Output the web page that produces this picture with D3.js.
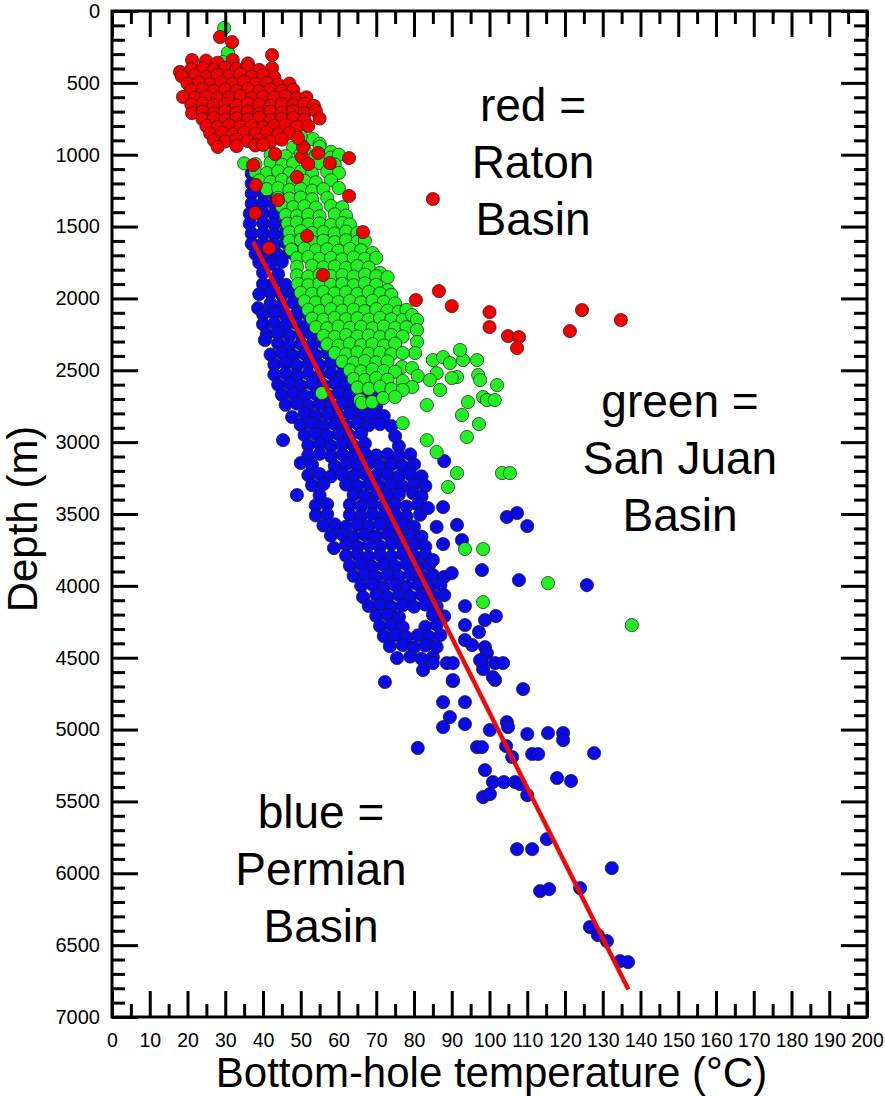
<!DOCTYPE html>
<html>
<head>
<meta charset="utf-8">
<script src="https://cdn.jsdelivr.net/npm/d3@7/dist/d3.min.js"></script>
<style>
  html, body { margin: 0; padding: 0; background: #ffffff; }
  svg { display: block; }
  text { font-family: "Liberation Sans", Arial, sans-serif; fill: #000; }
</style>
</head>
<body>
<svg id="chart" width="885" height="1096"></svg>
<script>
// ---------------- DATA ----------------
const xTickValues = [0,10,20,30,40,50,60,70,80,90,100,110,120,130,140,150,160,170,180,190,200];
const yTickValues = [0,500,1000,1500,2000,2500,3000,3500,4000,4500,5000,5500,6000,6500,7000];
const xTitle = "Bottom-hole temperature (°C)";
const yTitle = "Depth (m)";

// [temperature °C, depth m]
const permian = [
[37,1130],[40,1150],[37,1200],[40,1195],[43,1210],[50.5,1190],[37,1270],[40,1265],[43,1280],[46,1260],
[37,1340],[40,1335],[43,1348],[46,1330],[49,1345],
[36.5,1410],[40,1405],[43,1418],[46,1400],[49,1412],
[36.5,1480],[40,1475],[43,1488],[46,1470],[49,1482],
[37,1550],[40,1545],[43,1558],[46,1540],[49,1552],
[37,1620],[40,1615],[43,1628],[46,1610],[49,1622],
[38,1690],[41,1685],[44,1698],[47,1680],
[39,1750],[42,1760],[45,1745],
[40,1820],[44,1830],
[40,1900],[43,1890],[46,1905],[50,1895],[54,1910],
[39,1970],[42,1960],[45,1975],[48,1965],[51,1978],[54,1962],[57,1972],
[38.7,2067],[42,2035],[45,2048],[48,2030],[51,2045],[54,2038],[57,2050],
[40,2110],[43,2102],[46,2118],[49,2105],[52,2115],[55,2100],[58,2112],
[40,2180],[43,2172],[46,2188],[49,2175],[52,2185],[55,2170],[58,2182],
[41,2250],[44,2242],[47,2258],[50,2245],[53,2255],[56,2240],[59,2252],
[40.5,2290],[44,2312],[47,2328],[50,2315],[53,2325],[56,2310],[59,2322],[62,2315],
[42,2390],[45,2382],[48,2398],[51,2385],[54,2395],[57,2380],[60,2392],[63,2385],
[43,2460],[46,2452],[49,2468],[52,2455],[55,2465],[58,2450],[61,2462],[64,2455],
[43,2530],[46,2522],[49,2538],[52,2525],[55,2535],[58,2520],[61,2532],[64,2525],[67,2538],
[44,2600],[47,2592],[50,2608],[53,2595],[56,2605],[59,2590],[62,2602],[65,2595],[68,2608],
[45,2670],[48,2662],[51,2678],[54,2665],[57,2675],[60,2660],[63,2672],[66,2665],[69,2678],
[46,2740],[49,2732],[52,2748],[55,2735],[58,2745],[61,2730],[64,2742],[67,2735],[70,2748],
[47.7,2825],[51,2802],[54,2818],[57,2805],[60,2815],[63,2800],[66,2812],[69,2805],[72,2818],
[50,2880],[53,2872],[56,2888],[59,2875],[62,2885],[65,2870],[68,2882],[71,2875],[74,2888],
[45.3,2986],[51,2950],[54,2942],[57,2958],[60,2945],[63,2955],[66,2940],[75,2958],
[52,3020],[55,3012],[58,3028],[61,3015],[64,3025],[67,3010],[76,3028],
[52,3090],[55,3082],[58,3098],[61,3085],[64,3095],[67,3080],[70,3092],[73,3085],[76,3098],[79,3085],
[50,3145],[53,3160],[59,3168],[62,3155],[65,3165],[68,3150],[71,3162],[74,3155],[77,3168],[80,3155],
[52,3230],[55,3222],[58,3238],[61,3225],[64,3235],[67,3220],[70,3232],[73,3225],[76,3238],[79,3225],[82,3238],
[53,3300],[56,3292],[62,3295],[65,3305],[68,3290],[71,3302],[74,3295],[77,3308],[80,3295],[83,3305],
[49,3368],[55,3370],[64,3365],[67,3375],[70,3360],[73,3372],[76,3365],[79.7,3354],[82,3378],
[54,3440],[57,3432],[63,3435],[66,3445],[69,3430],[72,3442],[75,3435],[78,3448],[81,3435],
[54,3510],[57,3502],[63,3505],[66,3515],[69,3500],[72,3512],[75,3505],[78,3518],[81.6,3505],
[56,3580],[59,3572],[62,3588],[65,3575],[68,3585],[71,3570],[74,3582],[77,3575],[80,3588],
[58,3650],[61,3642],[64,3658],[67,3645],[70,3655],[73,3640],[76,3652],[79,3645],[82,3658],
[58.8,3737],[62,3712],[65,3728],[68,3715],[71,3725],[74,3710],[77,3722],[80,3715],[83,3728],
[62,3790],[65,3782],[68,3798],[71,3785],[74,3795],[77,3780],[80,3792],[83,3785],
[63,3860],[66,3852],[69,3868],[72,3855],[75,3865],[78,3850],[81,3862],[84,3855],
[64,3930],[67,3922],[70,3938],[73,3925],[76,3935],[79,3920],[82,3932],[85,3925],[88,3938],
[66,4000],[69,3992],[72,4008],[75,3995],[78,4005],[81,3990],[84,4002],[87,3995],
[66.5,4078],[70,4062],[73,4078],[76,4065],[79,4075],[82,4060],[85,4072],[88,4065],
[68,4140],[71,4132],[74,4148],[77,4135],[80,4145],[83,4130],[86,4142],
[70,4210],[73,4202],[76,4218],[85,4200],[88,4212],
[71,4280],[74,4272],[77,4288],[83,4285],[86,4270],
[72,4350],[75,4342],[78,4358],[81,4345],[84,4355],[87,4342],
[73.6,4420],[77,4412],[80,4428],[83,4415],[86,4425],
[75.5,4502],[79,4492],[82,4508],[85,4495],
[85,4537],[88.7,4537],[90.3,4537],[82.4,4586],[90.3,4663],[72.3,4669],
[83.7,3459],[87.7,3452],[86,3590],[91.4,3576],[92.7,3681],[87.7,3709],[85,3820],[90,3911],[88,3132],
[98,3890],[104.6,3521],[107.3,3493],[110,3584],[107.8,3960],[125.8,3995],
[93.5,4141],[98.8,4238],[101.7,4210],[93.5,4273],[97.2,4321],[93.5,4377],[95.4,4412],[98.8,4426],
[99.3,4468],[98,4530],[98.3,4579],[101.5,4537],[103.6,4537],[97.5,4517],[101.5,4655],[100.9,4635],
[108.9,4718],[90.3,4655],[87.7,4809],[93.5,4809],[89.5,4913],[87.7,4983],[93.5,4962],[104.6,4948],
[104.9,4983],[100.1,5003],[110,5031],[81,5128],[96.7,5122],[98,5122],[104.4,5115],[115.5,5024],
[119.5,5024],[119.5,5073],[127.7,5164],[106,5191],[111.3,5170],[112.9,5170],[98.8,5282],
[100.9,5365],[103.8,5365],[106.8,5365],[108.1,5379],[98.3,5470],[100.1,5449],[110,5456],
[117.9,5337],[121.6,5358],[107.3,5832],[111.3,5832],[115.2,5762],[132.4,5964],[113.4,6124],
[115.8,6110],[124,6103],[126.6,6374],[128.7,6430],[131.1,6472],[134.6,6611],[136.7,6618]
];

const sanJuan = [
[29.7,118],[30.7,290],[29.4,355],
[53.2,891],[50,870],[55,925],
[48,950],[51,962],[55,945],[58,980],
[42,1000],[46,1010],[50,995],[54,1008],[58,1020],[60.1,1000],
[35,1060],[38,1065],[42,1055],[45,1070],[48,1060],[52,1072],[55,1058],[59,1068],
[38,1120],[41,1128],[44,1115],[47,1130],[50,1120],[53,1132],[57,1118],[60.1,1127],
[39,1180],[42,1190],[45,1175],[48,1188],[51,1182],[54,1192],[58,1178],
[41,1240],[44,1232],[47,1245],[50,1238],[53,1250],[56,1240],[60.1,1232],
[44,1300],[47,1305],[50,1298],[53,1310],[57,1300],
[45,1360],[48,1365],[51,1358],[54,1368],[58,1356],[61,1365],
[46,1420],[49,1425],[52,1418],[55,1428],[59,1415],[62,1425],
[46.5,1480],[49,1472],[52,1485],[55,1478],[58,1488],[61,1475],[63,1485],
[47,1540],[50,1532],[53,1545],[56,1538],[59,1548],[62,1535],[65,1545],
[47,1600],[50,1592],[53,1605],[56,1598],[59,1608],[62,1595],[65,1605],[67,1598],
[47.5,1660],[51,1652],[54,1665],[57,1658],[60,1668],[63,1655],[66,1665],[69,1684],
[49,1720],[52,1712],[55,1725],[58,1718],[61,1728],[64,1715],[67,1725],[70,1718],
[49,1780],[53,1772],[56,1785],[59,1778],[62,1788],[65,1775],[68,1785],[71,1823],
[49,1840],[52,1848],[55,1835],[58,1845],[61,1838],[64,1848],[67,1835],[70,1845],[73,1852],
[49.3,1900],[52,1908],[55,1895],[58,1905],[61,1898],[64,1908],[67,1895],[70,1905],[73,1942],
[50,1960],[53,1968],[56,1955],[59,1965],[62,1958],[65,1968],[68,1955],[71,1965],[74,1975],
[51,2020],[54,2028],[57,2015],[60,2025],[63,2018],[66,2028],[69,2015],[72,2025],[75,2035],
[52,2080],[55,2088],[58,2075],[61,2085],[64,2078],[67,2088],[70,2075],[73,2085],[76,2092],[78,2080],
[53,2140],[56,2148],[59,2135],[62,2145],[65,2138],[68,2148],[71,2135],[74,2145],[77,2150],[79.5,2116],[80.8,2150],
[54,2200],[57,2208],[60,2195],[63,2205],[66,2198],[69,2208],[72,2195],[75,2205],[78,2200],[80.8,2220],
[56,2260],[59,2268],[62,2255],[65,2265],[68,2258],[71,2268],[74,2255],[77,2265],[80.8,2303],
[57,2320],[60,2328],[63,2315],[66,2325],[69,2318],[72,2328],[75,2315],[80.3,2380],
[59,2380],[62,2388],[65,2375],[68,2385],[71,2378],[74,2388],[77,2380],
[61,2440],[64,2448],[67,2435],[70,2445],[73,2438],[76.8,2477],[79.5,2484],[85,2429],[87.7,2408],[89.5,2450],[93,2429],[92.2,2359],[96.7,2429],
[63,2500],[66,2508],[69,2495],[72,2505],[75,2510],[81,2540],[91.4,2547],[97,2533],[86,2520],[90,2554],
[64,2560],[67,2568],[70,2555],[73,2565],[77,2575],[79.5,2617],[86.9,2637],[84.2,2568],[97.5,2568],[102,2603],
[65,2620],[68,2628],[71,2615],[74,2630],[77,2637],[83.4,2742],[98.3,2686],
[65.7,2707],[66.2,2728],[68.9,2721],[71.8,2693],[75,2686],[99.3,2707],[101.4,2707],[94.3,2721],[92.7,2811],
[55.6,2658],[77,2868],[83.4,2986],[86,3069],[91.4,3215],[89,3312],[103.3,3215],[105.4,3215],[94,2964],[97.2,2874],
[93.5,3744],[98.3,3744],[98.3,4113],[115.5,3981],[137.7,4273]
];

const raton = [
[28.6,181],[31.8,216],[42.4,306],
[21.2,341],[24.9,345],[28,360],[32,341],[36,365],
[18,424],[21,405],[24,398],[27,410],[30,395],[33,402],[36,390],[39,410],[42.4,397],
[18.5,455],[22,448],[25,460],[28,445],[31,452],[34,440],[37,458],[40,446],[43,462],
[20,505],[23,498],[26,510],[29,495],[32,505],[35,492],[38,508],[41,500],[44,512],[47,505],
[21,552],[24,545],[27,558],[30,548],[33,555],[36,542],[39,560],[42,548],[45,555],[48,548],
[18.8,598],[22,605],[25,595],[28,608],[31,600],[34,592],[37,607],[40,598],[43,603],[46,595],[49,607],[51.5,600],
[21,652],[24,645],[27,655],[30,648],[33,658],[36,645],[39,652],[42,660],[45,648],[48,655],[51,645],[53.5,660],
[21.2,710],[24,700],[27,712],[30,698],[33,708],[36,700],[39,715],[42,702],[45,708],[48,698],[51,712],[54,695],
[24,752],[27,745],[30,758],[33,748],[36,755],[39,742],[42,760],[45,750],[48,745],[51,758],[55,748],
[25,800],[28,808],[31,795],[34,805],[37,798],[40,810],[43,800],[46,795],[49,805],[52,800],
[26,852],[29,845],[32,858],[35,848],[38,855],[41,845],[44,858],[47,850],
[27,900],[30,908],[33,895],[36,905],[39,898],[42,910],[45,895],
[28,946],[33,940],[38,935],
[37.4,1072],[38.1,1211],[37.9,1406],[44,1315],[51.7,1566],[41.6,1650],[49,1155],[62.8,1023],
[62.8,1287],[66.5,1538],[50.3,1016],[50.6,946],[54.6,988],[57.7,1058],[52,1065],[55.9,1837],
[49.3,884],[43.2,995],[40,932],[85,1308],[86.6,1949],[80.5,2011],[90,2053],[100,2095],
[100,2199],[104.9,2262],[107.8,2269],[107.3,2345],[124.5,2081],[121.3,2227],[134.8,2150]
];

// regression line end points [temperature, depth]
const trendLine = [[37.4,1605],[136.8,6808]];

const annotations = [
  { lines: ["red =", "Raton", "Basin"] },
  { lines: ["green =", "San Juan", "Basin"] },
  { lines: ["blue =", "Permian", "Basin"] }
];

// ---------------- LAYOUT ----------------
const L = 112, R = 867, T = 11, B = 1017;
const svg = d3.select("#chart");

const x = d3.scaleLinear().domain([0, 200]).range([L, R]);
const y = d3.scaleLinear().domain([0, 7000]).range([T, B]);

const colors = { permian: "#0a0ae8", sanJuan: "#22f022", raton: "#f20000" };
const R_PT = 6.6;

function drawSeries(data, color) {
  svg.append("g").selectAll("circle").data(data).join("circle")
    .attr("cx", d => x(d[0]))
    .attr("cy", d => y(d[1]))
    .attr("r", R_PT)
    .attr("fill", color)
    .attr("stroke", "#1a1a1a")
    .attr("stroke-width", 0.7);
}
drawSeries(permian, colors.permian);
drawSeries(sanJuan, colors.sanJuan);
drawSeries(raton, colors.raton);

svg.append("path")
  .datum(trendLine)
  .attr("d", d3.line().x(d => x(d[0])).y(d => y(d[1])))
  .attr("fill", "none")
  .attr("stroke", "#ee0a0a")
  .attr("stroke-width", 4.5);

const MAJ = 26, MIN = 13;
const xMinor = d3.range(5, 200, 10);
const yMinor = d3.range(100, 7000, 100).filter(v => v % 500 !== 0);

function styleAxis(g) {
  g.select(".domain").remove();
  g.selectAll(".tick line").attr("stroke", "#000").attr("stroke-width", 3);
}

svg.append("g").attr("transform", `translate(0,${B})`)
  .call(d3.axisBottom(x).tickValues(xTickValues).tickSizeInner(-MAJ).tickSizeOuter(0).tickPadding(16).tickFormat(d3.format("d")))
  .call(styleAxis)
  .call(g => g.selectAll("text").attr("font-size", 19.5).attr("font-family", '"Liberation Sans", Arial, sans-serif').attr("fill", "#000"));
svg.append("g").attr("transform", `translate(0,${B})`)
  .call(d3.axisBottom(x).tickValues(xMinor).tickSizeInner(-MIN).tickSizeOuter(0).tickFormat(""))
  .call(styleAxis);
svg.append("g").attr("transform", `translate(0,${T})`)
  .call(d3.axisTop(x).tickValues(xTickValues).tickSizeInner(-MAJ).tickSizeOuter(0).tickFormat(""))
  .call(styleAxis);
svg.append("g").attr("transform", `translate(0,${T})`)
  .call(d3.axisTop(x).tickValues(xMinor).tickSizeInner(-MIN).tickSizeOuter(0).tickFormat(""))
  .call(styleAxis);

svg.append("g").attr("transform", `translate(${L},0)`)
  .call(d3.axisLeft(y).tickValues(yTickValues).tickSizeInner(-MAJ).tickSizeOuter(0).tickPadding(12).tickFormat(d3.format("d")))
  .call(styleAxis)
  .call(g => g.selectAll("text").attr("font-size", 20).attr("font-family", '"Liberation Sans", Arial, sans-serif').attr("fill", "#000"));
svg.append("g").attr("transform", `translate(${L},0)`)
  .call(d3.axisLeft(y).tickValues(yMinor).tickSizeInner(-MIN).tickSizeOuter(0).tickFormat(""))
  .call(styleAxis);
svg.append("g").attr("transform", `translate(${R},0)`)
  .call(d3.axisRight(y).tickValues(yTickValues).tickSizeInner(-MAJ).tickSizeOuter(0).tickFormat(""))
  .call(styleAxis);
svg.append("g").attr("transform", `translate(${R},0)`)
  .call(d3.axisRight(y).tickValues(yMinor).tickSizeInner(-MIN).tickSizeOuter(0).tickFormat(""))
  .call(styleAxis);

svg.append("rect")
  .attr("x", L).attr("y", T).attr("width", R - L).attr("height", B - T)
  .attr("fill", "none").attr("stroke", "#000").attr("stroke-width", 3);

svg.append("text")
  .attr("x", (L + R) / 2 + 2).attr("y", 1087)
  .attr("text-anchor", "middle").attr("font-size", 42)
  .text(xTitle);
svg.append("text")
  .attr("transform", `translate(37,${(T + B) / 2 + 5}) rotate(-90)`)
  .attr("text-anchor", "middle").attr("font-size", 42)
  .text(yTitle);

const annoPos = [
  { cx: 533, base: 121 },
  { cx: 680, base: 417 },
  { cx: 321, base: 828 }
];
annotations.forEach((a, i) => {
  const p = annoPos[i];
  const t = svg.append("text").attr("text-anchor", "middle").attr("font-size", 46);
  a.lines.forEach((ln, j) => {
    t.append("tspan").attr("x", p.cx).attr("y", p.base + j * 57).text(ln);
  });
});
</script>
</body>
</html>
